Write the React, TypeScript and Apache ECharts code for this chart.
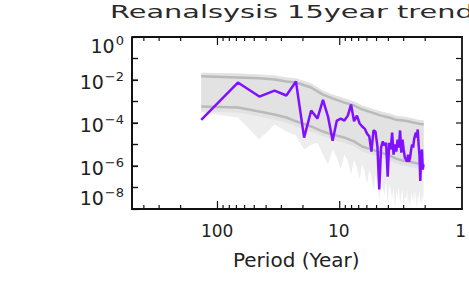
import React, { useEffect, useRef } from "react";
import * as echarts from "echarts";

// Record length (years); spectral periods are N / k
const N_YEARS = 135;
const periods = Array.from({ length: 67 }, (_, i) => N_YEARS / (i + 1));

// Reanalysis power spectrum (purple)
const spectrum = [
  1.4e-4, 7.6e-3, 1.7e-3, 3.2e-3, 1.9e-3, 8.5e-3, 2.1e-5, 3.8e-4, 1.6e-4, 1.2e-3,
  2.0e-4, 1.5e-5, 1.3e-4, 1.6e-4, 1.3e-4, 2.2e-4, 7.2e-4, 1.2e-4, 2.2e-4, 9.5e-5,
  6.9e-5, 5.5e-5, 3.2e-5, 2.4e-5, 4.7e-6, 4.5e-5, 4.0e-5, 8.1e-6, 8.1e-8, 7.2e-6,
  1.4e-5, 8.9e-6, 1.2e-5, 3.2e-7, 1.2e-5, 5.9e-6, 3.6e-5, 3.4e-6, 1.0e-5, 4.7e-6,
  1.7e-5, 7.2e-6, 4.5e-5, 4.2e-6, 1.7e-5, 5.9e-6, 2.5e-6, 2.0e-6, 1.6e-6, 3.4e-6,
  1.6e-6, 2.5e-6, 5.9e-6, 1.0e-5, 7.2e-6, 1.7e-5, 2.6e-5, 3.6e-5, 2.1e-5, 5.0e-5,
  1.0e-5, 3.4e-6, 2.0e-7, 2.0e-6, 5.9e-6, 6.9e-7, 1.2e-6,
];

// Ensemble envelope, read at anchor periods
const anchorPeriods = [135, 67.5, 45, 33.8, 27, 22.5, 16.9, 13.5, 11.3, 9, 7.5, 6.43, 5.4, 4.5, 3.86, 3.38, 3, 2.7, 2.45, 2.25, 2.01];
const upperLine = [1.5e-2, 1.3e-2, 1.2e-2, 1.05e-2, 8.5e-3, 7.6e-3, 4.5e-3, 2.1e-3, 1.4e-3, 8.9e-4, 6.5e-4, 4.3e-4, 3.1e-4, 2.2e-4, 1.8e-4, 1.4e-4, 1.3e-4, 1.2e-4, 1.05e-4, 9.5e-5, 8.5e-5];
const lowerLine = [5.9e-4, 5.3e-4, 3.4e-4, 2.5e-4, 1.8e-4, 1.2e-4, 6.9e-5, 4.0e-5, 2.9e-5, 2.1e-5, 1.4e-5, 8.1e-6, 5.9e-6, 4.2e-6, 3.1e-6, 2.2e-6, 1.8e-6, 1.6e-6, 1.45e-6, 1.3e-6, 1.2e-6];
const bandTop = [2.2e-2, 2.0e-2, 1.8e-2, 1.6e-2, 1.3e-2, 1.2e-2, 6.9e-3, 3.2e-3, 2.1e-3, 1.4e-3, 1.0e-3, 6.5e-4, 4.7e-4, 3.4e-4, 2.8e-4, 2.2e-4, 2.0e-4, 1.8e-4, 1.6e-4, 1.4e-4, 1.3e-4];
const bandBottom = [3.4e-4, 3.1e-4, 2.0e-4, 1.4e-4, 1.05e-4, 6.9e-5, 4.0e-5, 2.4e-5, 1.7e-5, 1.2e-5, 8.1e-6, 4.7e-6, 3.4e-6, 2.5e-6, 1.8e-6, 1.3e-6, 1.05e-6, 9.5e-7, 8.5e-7, 7.6e-7, 6.9e-7];
// Lowest ensemble member at each period (faint spikes)
const ensembleMin = [
  3.1e-4, 1.8e-4, 1.7e-5, 8.5e-5, 4.0e-5, 2.6e-5, 5.9e-6, 1.0e-5, 1.2e-5, 3.4e-6,
  1.2e-6, 5.9e-6, 2.5e-6, 6.9e-7, 3.4e-6, 1.6e-6, 4.0e-7, 2.0e-6, 8.5e-7, 2.4e-7,
  1.2e-6, 5.5e-7, 1.4e-7, 6.9e-7, 2.9e-7, 8.1e-8, 4.0e-7, 1.4e-7, 2.8e-8, 2.4e-7,
  1.0e-7, 4.7e-8, 1.9e-7, 1.6e-8, 1.4e-7, 8.1e-8, 2.8e-8, 1.0e-7, 1.0e-8, 6.5e-8,
  3.4e-8, 1.2e-7, 1.6e-8, 4.7e-8, 8.1e-8, 1.0e-8, 4.3e-8, 2.8e-8, 8.1e-8, 1.6e-8,
  3.4e-8, 1.0e-8, 6.5e-8, 2.8e-8, 4.7e-8, 1.6e-8, 8.1e-8, 2.8e-8, 1.0e-8, 4.7e-8,
  2.8e-8, 8.1e-8, 1.6e-8, 3.4e-8, 1.0e-8, 4.7e-8, 2.8e-8,
];

// Axis ranges, ticks and tick labels
const X_MIN = 1;
const X_MAX = 500;
const Y_MIN = 1e-8;
const Y_MAX = 1;
const majorTickPeriods = [100, 10];
const minorTickPeriods = [400, 300, 200, 90, 80, 70, 60, 50, 40, 30, 20, 9, 8, 7, 6, 5, 4, 3, 2];
const yTickValues = [1e-1, 1e-2, 1e-3, 1e-4, 1e-5, 1e-6, 1e-7];
const yLabelValues = [1, 1e-2, 1e-4, 1e-6, 1e-8];
const yLabelExponents = ["0", "\u22122", "\u22124", "\u22126", "\u22128"];

const TITLE = "Reanalsysis 15year trend";
const X_NAME = "Period (Year)";

const FONT = "DejaVu Sans";
const INK = "#111";
const TEXT = "#222";
const GRID = { left: 132, right: 7, top: 37, bottom: 74 };

let measureCtx: CanvasRenderingContext2D | null = null;
function textWidth(s: string, size: number) {
  if (!measureCtx) measureCtx = document.createElement("canvas").getContext("2d");
  if (!measureCtx) return s.length * size * 0.62;
  measureCtx.font = `${size}px "${FONT}"`;
  return measureCtx.measureText(s).width;
}

// ---------- overlay: frame and ticks ----------
const frameSeries = {
  type: "custom",
  silent: true,
  clip: false,
  z: 12,
  data: [[X_MAX, Y_MAX]],
  renderItem: (params: any, api: any) => {
    const tl = api.coord([X_MAX, Y_MAX]);
    const br = api.coord([X_MIN, Y_MIN]);
    return {
      type: "polyline",
      shape: {
        points: [
          [tl[0], tl[1]],
          [br[0], tl[1]],
          [br[0], br[1]],
          [tl[0], br[1]],
          [tl[0], tl[1]],
        ],
      },
      style: { stroke: INK, lineWidth: 1.8, fill: null },
    };
  },
};

function xTickSeries(values: number[], len: number) {
  return {
    type: "custom",
    silent: true,
    clip: false,
    z: 11,
    data: values.map((p) => [p, Y_MIN]),
    renderItem: (params: any, api: any) => {
      const p = api.value(0);
      const b = api.coord([p, Y_MIN]);
      const t = api.coord([p, Y_MAX]);
      const st = { stroke: INK, lineWidth: 1.2 };
      return {
        type: "group",
        children: [
          { type: "line", shape: { x1: b[0], y1: b[1], x2: b[0], y2: b[1] - len }, style: st },
          { type: "line", shape: { x1: t[0], y1: t[1], x2: t[0], y2: t[1] + len }, style: st },
        ],
      };
    },
  };
}

function yTickSeries(values: number[], len: number) {
  return {
    type: "custom",
    silent: true,
    clip: false,
    z: 11,
    data: values.map((v) => [X_MAX, v]),
    renderItem: (params: any, api: any) => {
      const v = api.value(1);
      const l = api.coord([X_MAX, v]);
      const r = api.coord([X_MIN, v]);
      const st = { stroke: INK, lineWidth: 1.2 };
      return {
        type: "group",
        children: [
          { type: "line", shape: { x1: l[0], y1: l[1], x2: l[0] + len, y2: l[1] }, style: st },
          { type: "line", shape: { x1: r[0], y1: r[1], x2: r[0] - len, y2: r[1] }, style: st },
        ],
      };
    },
  };
}

// ---------- main chart pieces ----------
const yLabelSeries = {
  type: "custom",
  silent: true,
  clip: false,
  z: 11,
  data: yLabelValues.map((v) => [X_MAX, v]),
  renderItem: (params: any, api: any) => {
    const v = api.value(1);
    const p = api.coord([X_MAX, v]);
    const exp = yLabelExponents[params.dataIndex];
    const shift = v >= Y_MAX ? 9 : v <= Y_MIN ? -11 : 2;
    const right = p[0] - 8;
    const ew = textWidth(exp, 13);
    return {
      type: "group",
      children: [
        {
          type: "text",
          style: {
            text: "10",
            x: right - ew - 1,
            y: p[1] + shift,
            fontFamily: FONT,
            fontSize: 19,
            fill: TEXT,
            textAlign: "right",
            textVerticalAlign: "middle",
          },
        },
        {
          type: "text",
          style: {
            text: exp,
            x: right,
            y: p[1] + shift - 6,
            fontFamily: FONT,
            fontSize: 13,
            fill: TEXT,
            textAlign: "right",
            textVerticalAlign: "middle",
          },
        },
      ],
    };
  },
};

function polygonSeries(topP: number[], topV: number[], botP: number[], botV: number[], color: string) {
  return {
    type: "custom",
    silent: true,
    clip: false,
    z: 1,
    data: [[topP[0], topV[0]]],
    renderItem: (params: any, api: any) => {
      const pts: number[][] = [];
      for (let i = 0; i < topP.length; i++) pts.push(api.coord([topP[i], topV[i]]));
      for (let i = botP.length - 1; i >= 0; i--) pts.push(api.coord([botP[i], botV[i]]));
      return {
        type: "polygon",
        shape: { points: pts },
        style: { fill: color },
      };
    },
  };
}

export default function App() {
  const mainRef = useRef<HTMLDivElement>(null);
  const overRef = useRef<HTMLDivElement>(null);
  useEffect(() => {
    if (!mainRef.current || !overRef.current) return;
    const chart = echarts.init(mainRef.current, null, { renderer: "svg" });
    const over = echarts.init(overRef.current, null, { renderer: "svg" });

    const xFormatter = (v: number) => {
      const e = Math.log10(v);
      if (Math.abs(e - Math.round(e)) > 1e-6) return "";
      return String(Math.round(v));
    };

    chart.setOption({
      animation: false,
      grid: GRID,
      graphic: [
        {
          type: "text",
          x: 110,
          y: 3,
          scaleX: 1.6,
          style: {
            text: TITLE,
            fontFamily: FONT,
            fontSize: 18,
            fill: "#2a2a2a",
            textAlign: "left",
            textVerticalAlign: "top",
          },
        },
      ],
      xAxis: {
        type: "log",
        min: X_MIN,
        max: X_MAX,
        inverse: true,
        axisLine: { show: false },
        axisTick: { show: false },
        splitLine: { show: false },
        axisLabel: {
          formatter: xFormatter,
          fontFamily: FONT,
          fontSize: 17,
          color: TEXT,
          margin: 13,
          showMinLabel: true,
          showMaxLabel: true,
        },
        name: X_NAME,
        nameLocation: "middle",
        nameGap: 41,
        nameTextStyle: { fontFamily: FONT, fontSize: 20, color: TEXT },
      },
      yAxis: {
        type: "log",
        min: Y_MIN,
        max: Y_MAX,
        axisLine: { show: false },
        axisTick: { show: false },
        splitLine: { show: false },
        axisLabel: { show: false },
      },
      series: [
        yLabelSeries,
        polygonSeries(anchorPeriods, bandTop, periods, ensembleMin, "#ededed"),
        polygonSeries(anchorPeriods, bandTop, anchorPeriods, bandBottom, "#e2e2e2"),
        {
          type: "line",
          silent: true,
          showSymbol: false,
          z: 3,
          data: anchorPeriods.map((p, i) => [p, upperLine[i]]),
          lineStyle: { color: "#bababa", width: 2.5 },
        },
        {
          type: "line",
          silent: true,
          showSymbol: false,
          z: 3,
          data: anchorPeriods.map((p, i) => [p, lowerLine[i]]),
          lineStyle: { color: "#bababa", width: 2.5 },
        },
        {
          type: "line",
          silent: true,
          showSymbol: false,
          z: 4,
          data: periods.map((p, i) => [p, spectrum[i]]),
          lineStyle: { color: "#8010ff", width: 2.5 },
        },
      ],
    });

    // Transparent overlay chart with the same axes: plot frame and tick marks
    over.setOption({
      animation: false,
      grid: GRID,
      xAxis: {
        type: "log",
        min: X_MIN,
        max: X_MAX,
        inverse: true,
        axisLine: { show: true, onZero: false, lineStyle: { color: INK, width: 1.8 } },
        axisTick: { show: false },
        splitLine: { show: false },
        axisLabel: { show: false },
      },
      yAxis: {
        type: "log",
        min: Y_MIN,
        max: Y_MAX,
        axisLine: { show: true, onZero: false, lineStyle: { color: INK, width: 1.8 } },
        axisTick: { show: true, inside: true, length: 6, lineStyle: { color: INK, width: 1.2 } },
        splitLine: { show: false },
        axisLabel: { show: false },
      },
      series: [
        frameSeries,
        xTickSeries(majorTickPeriods, 8),
        xTickSeries(minorTickPeriods, 4),
        yTickSeries(yTickValues, 6),
      ],
    });

    return () => {
      chart.dispose();
      over.dispose();
    };
  }, []);
  return (
    <div style={{ position: "fixed", left: 0, top: 0, width: 469, height: 283, background: "#fff" }}>
      <div ref={mainRef} style={{ position: "absolute", left: 0, top: 0, width: 469, height: 283 }} />
      <div
        ref={overRef}
        style={{ position: "absolute", left: 0, top: 0, width: 469, height: 283, pointerEvents: "none" }}
      />
    </div>
  );
}
